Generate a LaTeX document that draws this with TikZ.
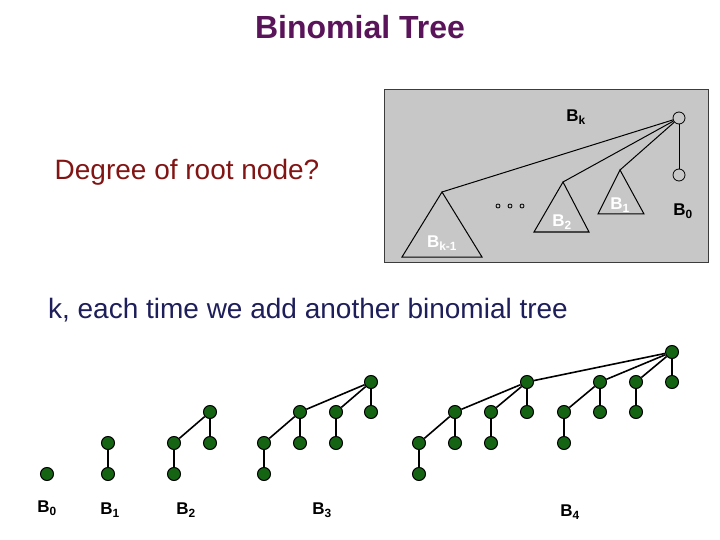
\documentclass[tikz,border=0pt]{standalone}
\usepackage{fontspec}
\setmainfont{Liberation Sans}
\begin{document}
\begin{tikzpicture}[x=1pt,y=-1pt,
  gn/.style={circle,draw=black,line width=1pt,fill={rgb,255:red,20;green,100;blue,20},minimum size=13pt,inner sep=0pt},
  wn/.style={circle,draw=black,line width=0.8pt,fill={rgb,255:red,200;green,200;blue,200},minimum size=12pt,inner sep=0pt},
  ed/.style={line width=1.6pt},
  tl/.style={font=\bfseries\fontsize{17}{17}\selectfont},
  bl/.style={font=\bfseries\fontsize{17}{17}\selectfont},
  tri/.style={draw=black,line width=1pt}]
\useasboundingbox (0,0) rectangle (720,540);
\node (title) at (360,27) [text={rgb,255:red,90;green,20;blue,90},font=\bfseries\fontsize{32}{32}\selectfont] {Binomial Tree};
% gray box
\fill[fill={rgb,255:red,199;green,199;blue,199},draw={rgb,255:red,60;green,60;blue,60},line width=1pt] (384,90) rectangle (708,262);
\node (q) at (187,172) [text={rgb,255:red,130;green,20;blue,20},font=\fontsize{28}{28}\selectfont] {Degree of root node?};
\node[wn] (R) at (679,118) {};
\node[wn] (Z) at (679,175) {};
\draw[tri] (R)--(Z);
\coordinate (a1) at (442,192); \coordinate (a2) at (563,182); \coordinate (a3) at (620,170);
\draw[tri] (a1)--(402,257)--(482,257)--cycle;
\draw[tri] (a2)--(534,232)--(589,232)--cycle;
\draw[tri] (a3)--(598,214)--(644,214)--cycle;
\draw[tri] (R)--(a1); \draw[tri] (R)--(a2); \draw[tri] (R)--(a3);
\foreach \x in {498,510,522} \draw[line width=0.8pt] (\x,206) circle (2pt);
\node[tl] (lk) at (576,117) {B\textsubscript{k}};
\node[tl,text=white] (lk1) at (442,243) {B\textsubscript{k-1}};
\node[tl,text=white] (l2) at (562,222) {B\textsubscript{2}};
\node[tl,text=white] (l1) at (620,205) {B\textsubscript{1}};
\node[tl] (l0) at (683,211) {B\textsubscript{0}};
\node (k) at (308,310) [text={rgb,255:red,30;green,30;blue,90},font=\fontsize{28}{28}\selectfont] {k, each time we add another binomial tree};
% trees
\node[gn] (t0) at (47,474) {};
\node[gn] (u1) at (108,443) {}; \node[gn] (u2) at (108,474) {};
\draw[ed] (u1)--(u2);
\node[gn] (v1) at (210,412) {}; \node[gn] (v2) at (174,443) {}; \node[gn] (v3) at (174,474) {}; \node[gn] (v4) at (210,443) {};
\draw[ed] (v1)--(v2)--(v3); \draw[ed] (v1)--(v4);
\node[gn] (w1) at (371,382) {}; \node[gn] (w2) at (300,412) {}; \node[gn] (w3) at (336,412) {}; \node[gn] (w4) at (371,412) {};
\node[gn] (w5) at (264,443) {}; \node[gn] (w6) at (264,474) {}; \node[gn] (w7) at (300,443) {}; \node[gn] (w8) at (336,443) {};
\draw[ed] (w1)--(w2)--(w5)--(w6); \draw[ed] (w1)--(w3)--(w8); \draw[ed] (w1)--(w4); \draw[ed] (w2)--(w7);
\node[gn] (x0) at (672,352) {};
\node[gn] (x1) at (527,382) {}; \node[gn] (x2) at (600,382) {}; \node[gn] (x3) at (636,382) {}; \node[gn] (x4) at (672,382) {};
\node[gn] (x5) at (455,412) {}; \node[gn] (x6) at (491,412) {}; \node[gn] (x7) at (527,412) {};
\node[gn] (x8) at (419,443) {}; \node[gn] (x9) at (419,474) {}; \node[gn] (x10) at (455,443) {}; \node[gn] (x11) at (491,443) {};
\node[gn] (x12) at (564,412) {}; \node[gn] (x13) at (564,443) {}; \node[gn] (x14) at (600,412) {}; \node[gn] (x15) at (636,412) {};
\draw[ed] (x0)--(x1)--(x5)--(x8)--(x9); \draw[ed] (x5)--(x10); \draw[ed] (x1)--(x6)--(x11); \draw[ed] (x1)--(x7);
\draw[ed] (x0)--(x2)--(x12)--(x13); \draw[ed] (x2)--(x14);
\draw[ed] (x0)--(x3)--(x15); \draw[ed] (x0)--(x4);
\node[bl] (b0) at (47,508) {B\textsubscript{0}};
\node[bl] (b1) at (110,510) {B\textsubscript{1}};
\node[bl] (b2) at (186,510) {B\textsubscript{2}};
\node[bl] (b3) at (322,510) {B\textsubscript{3}};
\node[bl] (b4) at (570,512) {B\textsubscript{4}};
\end{tikzpicture}
\end{document}
